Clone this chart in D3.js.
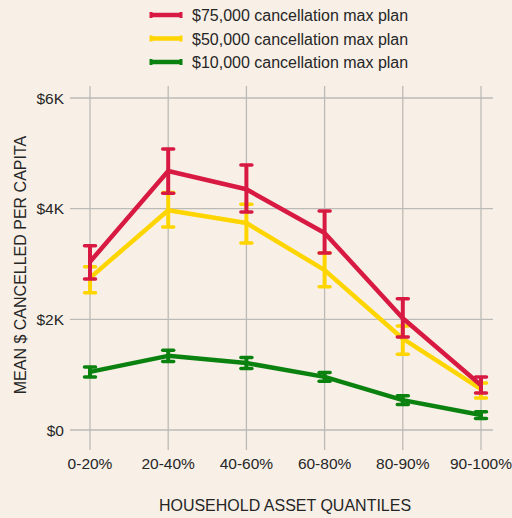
<!DOCTYPE html>
<html>
<head>
<meta charset="utf-8">
<script src="https://cdn.jsdelivr.net/npm/d3@7"></script>
<style>
  body { margin: 0; background: #f8f0e7; }
  svg { display: block; font-family: "Liberation Sans", Arial, sans-serif; }
</style>
</head>
<body>
<div id="chart"></div>
<script>
// quantile categories on the x axis
const quantiles = ["0-20%", "20-40%", "40-60%", "60-80%", "80-90%", "90-100%"];
const yTicks = [0, 2000, 4000, 6000];

// means and error bar ends, in $ per capita
const max75Mean = [3040, 4680, 4350, 3560, 2020, 810];
const max75Low  = [2730, 4280, 3940, 3200, 1680, 670];
const max75High = [3330, 5080, 4790, 3960, 2370, 960];

const max50Mean = [2750, 3970, 3740, 2890, 1650, 740];
const max50Low  = [2480, 3670, 3380, 2590, 1370, 580];
const max50High = [2950, 4290, 4080, 3200, 1880, 850];

const max10Mean = [1050, 1340, 1210, 960, 540, 270];
const max10Low  = [960, 1240, 1110, 880, 460, 210];
const max10High = [1140, 1440, 1310, 1040, 620, 330];

const seriesNames = ["$75,000 cancellation max plan", "$50,000 cancellation max plan", "$10,000 cancellation max plan"];
const colors = ["#d81a42", "#fed500", "#0b820f"];

const width = 512, height = 518;

const series = [
  {name: seriesNames[0], color: colors[0], mean: max75Mean, lo: max75Low, hi: max75High},
  {name: seriesNames[1], color: colors[1], mean: max50Mean, lo: max50Low, hi: max50High},
  {name: seriesNames[2], color: colors[2], mean: max10Mean, lo: max10Low, hi: max10High}
];

const svg = d3.select("#chart").append("svg")
    .attr("width", width)
    .attr("height", height);

svg.append("rect").attr("width", width).attr("height", height).attr("fill", "#f8f0e7");

const x = d3.scalePoint().domain(quantiles).range([90, 481]);
const y = d3.scaleLinear().domain([0, 6000]).range([430, 98]);

// grid
svg.append("g").selectAll("line.h")
    .data(yTicks).enter().append("line")
    .attr("x1", 70).attr("x2", 493)
    .attr("y1", d => y(d)).attr("y2", d => y(d))
    .attr("stroke", "#bcbab6").attr("stroke-width", 1.3);

svg.append("g").selectAll("line.v")
    .data(quantiles).enter().append("line")
    .attr("x1", d => x(d)).attr("x2", d => x(d))
    .attr("y1", 86).attr("y2", 450)
    .attr("stroke", "#bcbab6").attr("stroke-width", 1.3);

// tick labels
svg.append("g").selectAll("text")
    .data(yTicks).enter().append("text")
    .attr("x", 64).attr("y", d => y(d) + 5.5)
    .attr("text-anchor", "end")
    .attr("font-size", 15.5).attr("fill", "#262626")
    .text(d => d === 0 ? "$0" : "$" + d / 1000 + "K");

svg.append("g").selectAll("text")
    .data(quantiles).enter().append("text")
    .attr("x", d => x(d)).attr("y", 469)
    .attr("text-anchor", "middle")
    .attr("font-size", 15.5).attr("fill", "#262626")
    .text(d => d);

// axis titles
svg.append("text")
    .attr("x", 285).attr("y", 511)
    .attr("text-anchor", "middle")
    .attr("font-size", 16).attr("fill", "#262626")
    .text("HOUSEHOLD ASSET QUANTILES");

svg.append("text")
    .attr("transform", "translate(26,265) rotate(-90)")
    .attr("text-anchor", "middle")
    .attr("font-size", 16).attr("fill", "#262626")
    .text("MEAN $ CANCELLED PER CAPITA");

// lines + error bars, green first so red ends up on top
const line = d3.line().x((d, i) => x(quantiles[i])).y(d => y(d));

series.slice().reverse().forEach(s => {
  let g = svg.append("g");
  g.append("path")
    .attr("d", line(s.mean))
    .attr("fill", "none")
    .attr("stroke", s.color)
    .attr("stroke-width", 4.5)
    .attr("stroke-linejoin", "round");

  quantiles.forEach((q, i) => {
    g.append("line")
      .attr("x1", x(q)).attr("x2", x(q))
      .attr("y1", y(s.lo[i])).attr("y2", y(s.hi[i]))
      .attr("stroke", s.color).attr("stroke-width", 4);
    [s.lo[i], s.hi[i]].forEach(v => {
      g.append("line")
        .attr("x1", x(q) - 5.5).attr("x2", x(q) + 5.5)
        .attr("y1", y(v)).attr("y2", y(v))
        .attr("stroke", s.color).attr("stroke-width", 3.5)
        .attr("stroke-linecap", "round");
    });
  });
});

// legend
const legend = svg.append("g").selectAll("g")
    .data(series).enter().append("g")
    .attr("transform", (d, i) => `translate(150,${15 + i * 23.5})`);

legend.append("line")
    .attr("x1", 0).attr("x2", 32)
    .attr("stroke", d => d.color).attr("stroke-width", 4.5);
legend.append("line")
    .attr("x1", 31).attr("x2", 31).attr("y1", -3).attr("y2", 3)
    .attr("stroke", d => d.color).attr("stroke-width", 3);
legend.append("line")
    .attr("x1", 1).attr("x2", 1).attr("y1", -3).attr("y2", 3)
    .attr("stroke", d => d.color).attr("stroke-width", 3);
legend.append("text")
    .attr("x", 42).attr("y", 6)
    .attr("font-size", 16).attr("fill", "#262626")
    .text(d => d.name);
</script>
</body>
</html>
